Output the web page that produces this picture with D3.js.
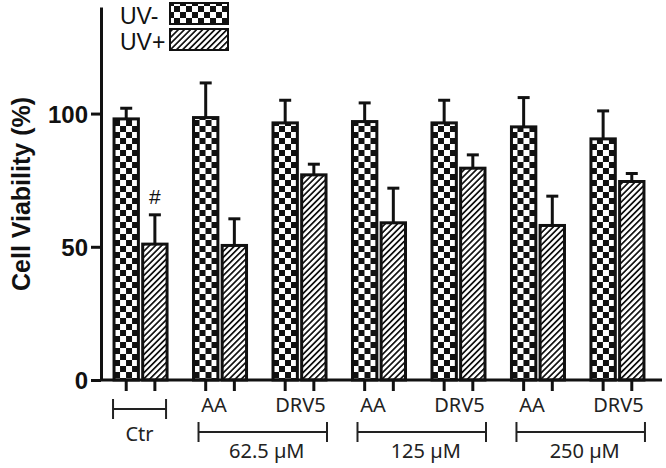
<!DOCTYPE html>
<html>
<head>
<meta charset="utf-8">
<script src="https://cdn.jsdelivr.net/npm/d3@7"></script>
<style>
  html, body { margin: 0; padding: 0; background: #fff; }
  svg { display: block; }
</style>
</head>
<body>
<svg id="chart" width="666" height="468"></svg>
<script>
// ---- data ----
const groups = ["Ctr", "AA62", "DRV62", "AA125", "DRV125", "AA250", "DRV250"];
const groupLabels = ["", "AA", "DRV5", "AA", "DRV5", "AA", "DRV5"];
const series = ["UV-", "UV+"];
const uvMinus = [98, 98.5, 96.5, 97, 96.5, 95, 90.5];
const uvMinusErr = [4, 13, 8.5, 7, 8.5, 11, 10.5];
const uvPlus = [51, 50.5, 77, 59, 79.5, 58, 74.5];
const uvPlusErr = [11, 10, 4, 13, 5, 11, 3];
const yTicks = [0, 50, 100];
const brackets = [
  { label: "Ctr", from: "Ctr", to: "Ctr", level: 0 },
  { label: "62.5 µM", from: "AA62", to: "DRV62", level: 1 },
  { label: "125 µM", from: "AA125", to: "DRV125", level: 1 },
  { label: "250 µM", from: "AA250", to: "DRV250", level: 1 }
];
const significance = [{ group: "Ctr", series: "UV+", mark: "#" }];

// ---- setup ----
const svg = d3.select("#chart");
const defs = svg.append("defs");

const checker = defs.append("pattern")
  .attr("id", "checker").attr("patternUnits", "userSpaceOnUse")
  .attr("width", 12).attr("height", 12);
checker.append("rect").attr("width", 12).attr("height", 12).attr("fill", "#fff");
checker.append("rect").attr("x", 0).attr("y", 0).attr("width", 6).attr("height", 6).attr("fill", "#111");
checker.append("rect").attr("x", 6).attr("y", 6).attr("width", 6).attr("height", 6).attr("fill", "#111");

const hs = 4.3;
const hatch = defs.append("pattern")
  .attr("id", "hatch").attr("patternUnits", "userSpaceOnUse")
  .attr("width", hs).attr("height", hs)
  .attr("patternTransform", "rotate(45)");
hatch.append("rect").attr("width", hs).attr("height", hs).attr("fill", "#fff");
hatch.append("rect").attr("x", 0).attr("y", 0).attr("width", 1.7).attr("height", hs)
  .attr("fill", "#111");

const fills = { "UV-": "url(#checker)", "UV+": "url(#hatch)" };

const y = d3.scaleLinear().domain([0, 140]).range([380, 7]);
const x0 = d3.scaleBand().domain(groups).range([101, 657])
  .paddingInner(0.333).paddingOuter(0.164);
const x1 = d3.scaleBand().domain(series).range([0, x0.bandwidth()]).paddingInner(0.15);

const rows = groups.map((g, i) => ({
  group: g,
  values: [
    { s: "UV-", v: uvMinus[i], e: uvMinusErr[i] },
    { s: "UV+", v: uvPlus[i], e: uvPlusErr[i] }
  ]
}));

const bw = x1.bandwidth();

// error bars (upper only)
const gRows = svg.append("g").selectAll("g").data(rows).join("g")
  .attr("transform", d => `translate(${x0(d.group)},0)`);

gRows.selectAll("g.err").data(d => d.values).join("g").attr("class", "err")
  .each(function(d) {
    const cx = x1(d.s) + bw / 2;
    const g = d3.select(this);
    g.append("line").attr("x1", cx).attr("x2", cx)
      .attr("y1", y(d.v)).attr("y2", y(d.v + d.e))
      .attr("stroke", "#111").attr("stroke-width", 3);
    g.append("line").attr("x1", cx - 6).attr("x2", cx + 6)
      .attr("y1", y(d.v + d.e)).attr("y2", y(d.v + d.e))
      .attr("stroke", "#111").attr("stroke-width", 3);
  });

// bars
gRows.selectAll("rect.bar").data(d => d.values).join("rect").attr("class", "bar")
  .attr("x", d => x1(d.s))
  .attr("y", d => y(d.v))
  .attr("width", bw)
  .attr("height", d => y(0) - y(d.v))
  .attr("fill", d => fills[d.s])
  .attr("stroke", "#111").attr("stroke-width", 3);

// significance marks
significance.forEach(m => {
  const i = groups.indexOf(m.group);
  const row = rows[i].values.find(v => v.s === m.series);
  svg.append("text")
    .attr("x", x0(m.group) + x1(m.series) + bw / 2)
    .attr("y", y(row.v + row.e) - 11)
    .attr("text-anchor", "middle")
    .attr("font-family", "Liberation Sans, Arial, sans-serif")
    .attr("font-size", 21).attr("fill", "#111")
    .text(m.mark);
});

// x axis baseline
svg.append("line").attr("x1", 101).attr("x2", 662)
  .attr("y1", y(0)).attr("y2", y(0))
  .attr("stroke", "#111").attr("stroke-width", 3);

// x ticks under each bar
gRows.selectAll("line.xt").data(d => d.values).join("line").attr("class", "xt")
  .attr("x1", d => x1(d.s) + bw / 2).attr("x2", d => x1(d.s) + bw / 2)
  .attr("y1", y(0)).attr("y2", y(0) + 11)
  .attr("stroke", "#111").attr("stroke-width", 3);

// y axis
const yAxis = svg.append("g").attr("transform", "translate(101,0)")
  .call(d3.axisLeft(y).tickValues(yTicks).tickSize(10).tickSizeOuter(0).tickPadding(3));
yAxis.select(".domain").attr("stroke", "#111").attr("stroke-width", 3);
yAxis.selectAll(".tick line").attr("stroke", "#111").attr("stroke-width", 3);
yAxis.selectAll(".tick text")
  .attr("font-family", "Liberation Sans, Arial, sans-serif")
  .attr("font-weight", "bold").attr("font-size", 24).attr("fill", "#111")
  .attr("dy", "0.36em");

// y label
svg.append("text")
  .attr("transform", "translate(30,194) rotate(-90)")
  .attr("text-anchor", "middle")
  .attr("font-family", "Liberation Sans, Arial, sans-serif")
  .attr("font-weight", "bold").attr("font-size", 25).attr("fill", "#111")
  .text("Cell Viability (%)");

// category labels
const labelFont = "Noto Sans, Open Sans, sans-serif";
const labelShift = { "AA": -6, "DRV5": 1 };
svg.append("g").selectAll("text").data(groups.map((g, i) => ({ g, l: groupLabels[i] })).filter(d => d.l))
  .join("text")
  .attr("x", d => x0(d.g) + x0.bandwidth() / 2 + labelShift[d.l])
  .attr("y", 412)
  .attr("text-anchor", "middle")
  .attr("font-family", labelFont).attr("font-size", 20).attr("fill", "#222")
  .text(d => d.l);

// brackets
brackets.forEach(b => {
  const xa = b.level === 0 ? x0(b.from) - 1 : x0(b.from) + 5;
  const xb = x0(b.to) + x0.bandwidth() + (b.level === 0 ? -1 : 1);
  const yb = b.level === 0 ? 409 : 432;
  const g = svg.append("g").attr("stroke", "#222").attr("stroke-width", 2);
  g.append("line").attr("x1", xa).attr("x2", xb).attr("y1", yb).attr("y2", yb);
  g.append("line").attr("x1", xa).attr("x2", xa).attr("y1", yb - 10).attr("y2", yb + 10);
  g.append("line").attr("x1", xb).attr("x2", xb).attr("y1", yb - 10).attr("y2", yb + 10);
  svg.append("text")
    .attr("x", (xa + xb) / 2 + (b.level === 0 ? 0 : 4))
    .attr("y", b.level === 0 ? 441 : 458)
    .attr("text-anchor", "middle")
    .attr("font-family", labelFont).attr("font-size", 20).attr("fill", "#222")
    .text(b.label);
});

// legend
const legend = svg.append("g");
series.forEach((s, i) => {
  const top = i === 0 ? 3 : 29;
  legend.append("text")
    .attr("x", 120).attr("y", top + 21)
    .attr("font-family", "Liberation Sans, Arial, sans-serif")
    .attr("font-size", 23).attr("fill", "#111")
    .text(s);
  legend.append("rect")
    .attr("x", 170).attr("y", top).attr("width", 58).attr("height", 21)
    .attr("fill", fills[s]).attr("stroke", "#111").attr("stroke-width", 2);
});
</script>
</body>
</html>
